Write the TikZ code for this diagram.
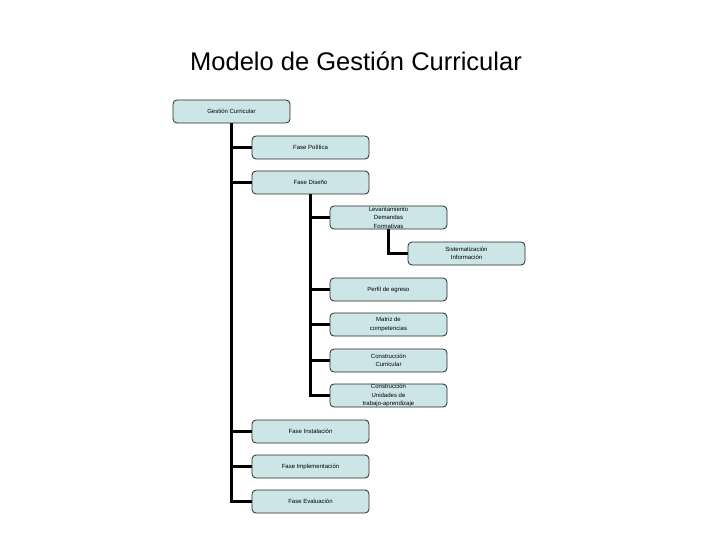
\documentclass[tikz,border=0pt]{standalone}
\usepackage{fontspec}
\setmainfont{Liberation Sans}
\usetikzlibrary{backgrounds}
\definecolor{boxfill}{RGB}{204,230,232}
\definecolor{boxline}{RGB}{40,40,40}
\begin{document}
\begin{tikzpicture}[x=1pt,y=-1pt,
  box/.style={draw=boxline,line width=0.8pt,fill=boxfill,rounded corners=4pt,
    minimum width=117pt,minimum height=23pt,inner sep=0pt,align=center,
    font=\fontsize{6}{8.5}\selectfont},
  conn/.style={line width=3pt,black,line join=miter}]
\useasboundingbox (0,0) rectangle (720,540);
\node (title) at (356,61) {\fontsize{25.5}{28}\selectfont Modelo de Gestión Curricular};
\node[box] (g) at (231.5,111.5) {Gestión Curricular};
\node[box] (p) at (310.5,147.5) {Fase Política};
\node[box] (d) at (310.5,182.5) {Fase Diseño};
\node[box] (lev) at (388.5,217.5) {Levantamiento\\Demandas\\Formativas};
\node[box] (sis) at (466.5,253.5) {Sistematización\\Información};
\node[box] (per) at (388.5,289.5) {Perfil de egreso};
\node[box] (mat) at (388.5,324.5) {Matriz de\\competencias};
\node[box] (cc) at (388.5,360.5) {Construcción\\Curricular};
\node[box] (cu) at (388.5,395.5) {Construcción\\Unidades de\\trabajo-aprendizaje};
\node[box] (ins) at (310.5,431.5) {Fase Instalación};
\node[box] (imp) at (310.5,466.5) {Fase Implementación};
\node[box] (eva) at (310.5,501.5) {Fase Evaluación};
\begin{scope}[on background layer]
  \foreach \n in {p,d,ins,imp,eva} {\draw[conn] (g.center) |- (\n.west);}
  \foreach \n in {lev,per,mat,cc,cu} {\draw[conn] (d.center) |- (\n.west);}
  \draw[conn] (lev.center) |- (sis.west);
\end{scope}
\end{tikzpicture}
\end{document}
